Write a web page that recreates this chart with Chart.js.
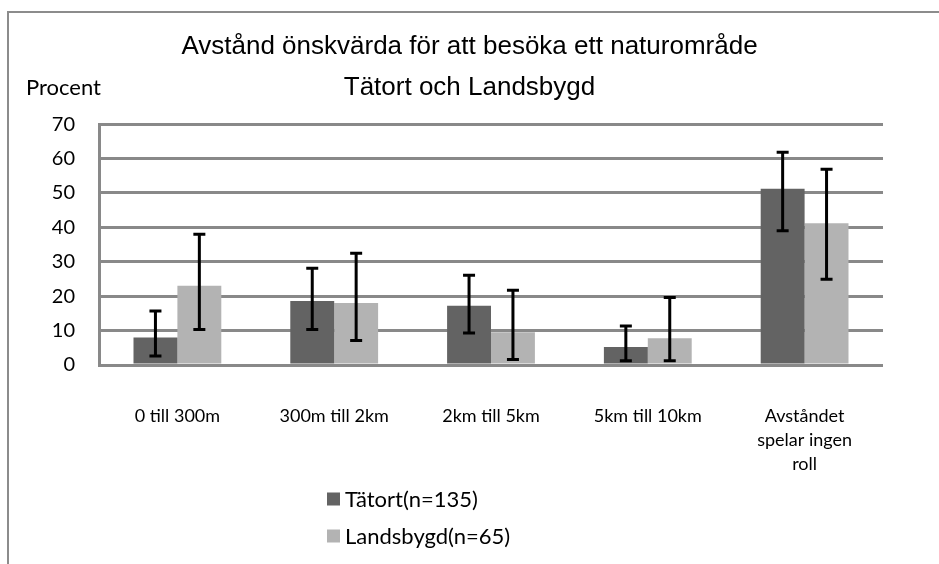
<!DOCTYPE html>
<html>
<head>
<meta charset="utf-8">
<script src="https://cdn.jsdelivr.net/npm/chart.js@4/dist/chart.umd.min.js"></script>
<style>
  html, body { margin: 0; padding: 0; background: #ffffff; }
  #wrap { width: 939px; height: 564px; position: relative; }
</style>
</head>
<body>
<div id="wrap"><canvas id="c" width="939" height="564"></canvas></div>
<script>
const titleLines = ['Avstånd önskvärda för att besöka ett naturområde', 'Tätort och Landsbygd'];
const yAxisLabel = 'Procent';
const categories = ['0 till 300m', '300m till 2km', '2km till 5km', '5km till 10km', ['Avståndet', 'spelar ingen', 'roll']];
const seriesNames = ['Tätort(n=135)', 'Landsbygd(n=65)'];
const tatort = [8.0, 18.6, 17.2, 5.2, 51.2];
const tatortLow = [2.6, 10.3, 9.3, 1.2, 39.0];
const tatortHigh = [15.7, 28.1, 26.1, 11.3, 61.8];
const landsbygd = [23.0, 18.0, 9.5, 7.8, 41.2];
const landsbygdLow = [10.3, 7.1, 1.6, 1.2, 24.9];
const landsbygdHigh = [38.0, 32.5, 21.7, 19.6, 56.9];
const yTickValues = [0, 10, 20, 30, 40, 50, 60, 70];

const errorLows = [tatortLow, landsbygdLow];
const errorHighs = [tatortHigh, landsbygdHigh];

const TITLEFONT = '"Liberation Sans", Arial, sans-serif';
const BODY = 'Lato, "Open Sans", sans-serif';

const framePlugin = {
  id: 'frame',
  beforeDraw(chart) {
    const ctx = chart.ctx;
    ctx.save();
    ctx.strokeStyle = '#8c8c8c';
    ctx.lineWidth = 2;
    ctx.beginPath();
    ctx.moveTo(8, chart.height);
    ctx.lineTo(8, 12);
    ctx.lineTo(chart.width, 12);
    ctx.stroke();
    ctx.restore();
  }
};

const errorBarPlugin = {
  id: 'errorBars',
  afterDatasetsDraw(chart) {
    const ctx = chart.ctx;
    const yScale = chart.scales.y;
    ctx.save();
    ctx.strokeStyle = '#000000';
    ctx.lineWidth = 3;
    chart.data.datasets.forEach((ds, i) => {
      const meta = chart.getDatasetMeta(i);
      meta.data.forEach((el, j) => {
        const x = el.x;
        const yl = yScale.getPixelForValue(errorLows[i][j]);
        const yh = yScale.getPixelForValue(errorHighs[i][j]);
        ctx.beginPath();
        ctx.moveTo(x, yl); ctx.lineTo(x, yh);
        ctx.moveTo(x - 6, yl); ctx.lineTo(x + 6, yl);
        ctx.moveTo(x - 6, yh); ctx.lineTo(x + 6, yh);
        ctx.stroke();
      });
    });
    ctx.restore();
  }
};

const textPlugin = {
  id: 'extraText',
  afterDraw(chart) {
    const ctx = chart.ctx;
    const area = chart.chartArea;
    ctx.save();
    ctx.fillStyle = '#000000';
    ctx.font = '22px ' + BODY;
    ctx.textBaseline = 'middle';
    ctx.textAlign = 'left';
    ctx.fillText(yAxisLabel, 26, 88);
    // legend
    const items = [area.bottom + 134, area.bottom + 171];
    chart.data.datasets.forEach((ds, i) => {
      const yc = items[i];
      ctx.fillStyle = ds.backgroundColor;
      ctx.fillRect(327, yc - 6.5, 13, 13);
      ctx.fillStyle = '#000000';
      ctx.font = '22px ' + BODY;
      ctx.fillText(ds.label, 345, yc + 1);
    });
    ctx.restore();
  }
};

new Chart(document.getElementById('c'), {
  type: 'bar',
  data: {
    labels: categories,
    datasets: [
      { label: seriesNames[0], data: tatort, backgroundColor: '#636363', borderWidth: 0 },
      { label: seriesNames[1], data: landsbygd, backgroundColor: '#b3b3b3', borderWidth: 0 }
    ]
  },
  options: {
    responsive: false,
    animation: false,
    devicePixelRatio: 1,
    layout: { padding: { left: 0, right: 0, top: 0, bottom: 0 } },
    datasets: { bar: { categoryPercentage: 0.56, barPercentage: 1.0 } },
    plugins: {
      legend: { display: false },
      tooltip: { enabled: false },
      title: {
        display: true,
        text: titleLines,
        color: '#000000',
        font: { family: TITLEFONT, size: 26, weight: 'normal', lineHeight: 1.58 },
        padding: { top: 26, bottom: 16 }
      }
    },
    scales: {
      x: {
        grid: { display: false, drawTicks: false },
        border: { display: false },
        ticks: {
          color: '#000000',
          font: { family: BODY, size: 18, lineHeight: 1.34 },
          padding: 39,
          maxRotation: 0,
          autoSkip: false
        },
        afterFit(scale) { scale.height = 199; }
      },
      y: {
        min: 0,
        max: 70,
        afterBuildTicks(scale) { scale.ticks = yTickValues.map(v => ({ value: v })); },
        grid: { color: '#898989', lineWidth: 3, drawTicks: false },
        border: { display: true, color: '#898989', width: 3 },
        ticks: {
          color: '#000000',
          font: { family: BODY, size: 20 },
          padding: 24
        },
        afterFit(scale) { scale.width = 99; }
      },
      rightSpace: {
        position: 'right',
        min: 0,
        max: 1,
        grid: { display: false, drawTicks: false },
        border: { display: false },
        ticks: { display: false },
        afterFit(scale) { scale.width = 56; }
      }
    }
  },
  plugins: [framePlugin, errorBarPlugin, textPlugin]
});
</script>
</body>
</html>
